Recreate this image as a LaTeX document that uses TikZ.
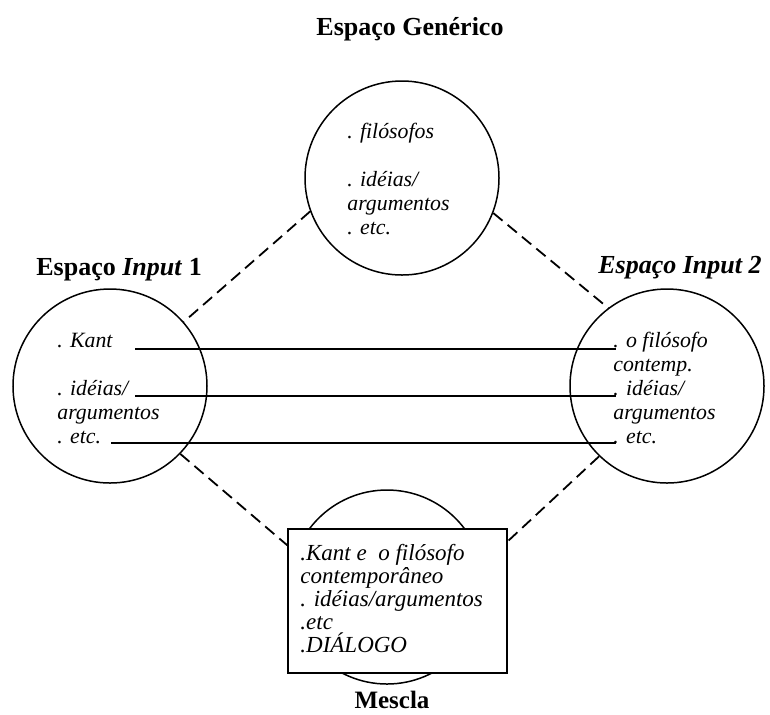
\documentclass[tikz,border=0pt]{standalone}
\usepackage{fontspec}
\setmainfont{Liberation Serif}
\usetikzlibrary{calc}
\begin{document}
\begin{tikzpicture}[x=0.5pt,y=-0.5pt,
  space/.style={draw=black, line width=0.75pt, circle, minimum size=97pt, inner sep=0pt},
  itemtext/.style={font=\fontsize{10.9}{12}\selectfont\itshape, align=left, inner sep=0pt, anchor=base west},
  boxtext/.style={font=\fontsize{11.5}{11.5}\selectfont\itshape, align=left, inner sep=0pt, anchor=base west},
  titletext/.style={font=\fontsize{13}{15}\selectfont\bfseries, inner sep=0pt},
  link/.style={line width=1pt},
  dashlink/.style={line width=0.9pt, dash pattern=on 6pt off 3.3pt},
]
\useasboundingbox (0,0) rectangle (770,714);

% spaces
\node[space] (generic) at (402,178) {};
\node[space] (in1) at (110,386) {};
\node[space] (in2) at (667,386) {};
\node[space] (blendc) at (387,587) {};
\node[draw=black, line width=0.75pt, fill=white, minimum width=109.5pt, minimum height=72pt, inner sep=0pt] (blend) at (397.5,601) {};

% titles
\node[titletext, anchor=base] (tgen) at (410,35) {Espaço Genérico};
\node[titletext, anchor=base west] (tin1) at (36,275) {Espaço \textit{Input} 1};
\node[titletext, anchor=base east, font=\fontsize{13}{15}\selectfont\bfseries\itshape] (tin2) at (762,273) {Espaço Input 2};
\node[titletext, anchor=base, font=\fontsize{12.5}{15}\selectfont\bfseries] (tmes) at (392,708) {Mescla};

% contents (anchor = baseline of last line)
\node[itemtext] (gtext) at (347,234) {. filósofos\\[12pt]. idéias/\\argumentos\\. etc.};
\node[itemtext] (i1text) at (57,443) {. Kant\\[12pt]. idéias/\\argumentos\\. etc.};
\node[itemtext] (i2text) at (613,443) {. o filósofo\\contemp.\\. idéias/\\argumentos\\. etc.};
\node[boxtext] (btext) at (300,652) {.Kant e\ \ o filósofo\\contemporâneo\\. idéias/argumentos\\.etc\\.DIÁLOGO};

% cross-space mappings
\coordinate (a1) at (135,349);
\coordinate (b1) at (616,349);
\coordinate (a2) at (135,396);
\coordinate (b2) at (616,396);
\coordinate (a3) at (111,443);
\coordinate (b3) at (616,443);
\draw[link] (a1) -- (b1);
\draw[link] (a2) -- (b2);
\draw[link] (a3) -- (b3);

% dashed projections
\draw[dashlink] (generic.200) -- (in1.41);
\draw[dashlink] (generic.339) -- (in2.127);
\draw[dashlink] (in1.-44) -- ([yshift=-8.5pt]blend.north west);
\draw[dashlink] (in2.226) -- ([yshift=-6.5pt]blend.north east);
\end{tikzpicture}
\end{document}
